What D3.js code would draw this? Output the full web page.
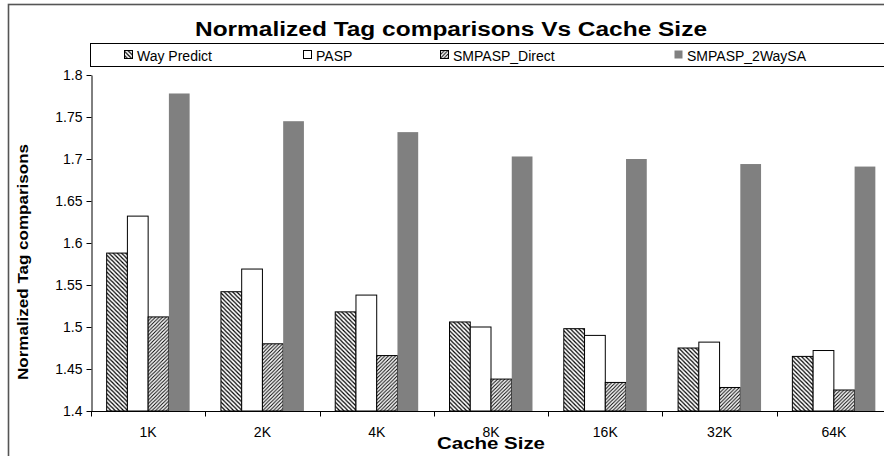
<!DOCTYPE html>
<html>
<head>
<meta charset="utf-8">
<script src="https://cdn.jsdelivr.net/npm/d3@7"></script>
<style>
  html, body { margin: 0; padding: 0; background: #fff; }
  svg { display: block; font-family: "Liberation Sans", Arial, sans-serif; }
</style>
</head>
<body>
<svg id="chart" width="884" height="456"></svg>
<script>
// Cache sizes along the x axis
const categories = ["1K", "2K", "4K", "8K", "16K", "32K", "64K"];

// Series, in legend order
const seriesNames = ["Way Predict", "PASP", "SMPASP_Direct", "SMPASP_2WaySA"];
const wayPredict   = [1.588, 1.542, 1.518, 1.506, 1.498, 1.475, 1.465];
const pasp         = [1.632, 1.569, 1.538, 1.500, 1.490, 1.482, 1.472];
const smpaspDirect = [1.512, 1.480, 1.466, 1.438, 1.434, 1.428, 1.425];
const smpasp2Way   = [1.778, 1.745, 1.732, 1.703, 1.700, 1.694, 1.691];

// Y axis ticks
const yTicks = [1.4, 1.45, 1.5, 1.55, 1.6, 1.65, 1.7, 1.75, 1.8];
const yTickLabels = ["1.4", "1.45", "1.5", "1.55", "1.6", "1.65", "1.7", "1.75", "1.8"];

const seriesValues = [wayPredict, pasp, smpaspDirect, smpasp2Way];
const rows = categories.map((c, i) => ({
  cat: c,
  values: seriesNames.map((s, k) => ({ series: s, value: seriesValues[k][i] }))
}));

const svg = d3.select("#chart");

// Hatch patterns
const defs = svg.append("defs");
function hatch(id, dir, sw, gap) {
  const p = defs.append("pattern")
    .attr("id", id)
    .attr("patternUnits", "userSpaceOnUse")
    .attr("width", gap).attr("height", gap);
  p.append("rect").attr("width", gap).attr("height", gap).attr("fill", "#fff");
  const d = dir === "back"
    ? `M0,0 L${gap},${gap} M${-gap},0 L${gap},${2 * gap} M0,${-gap} L${2 * gap},${gap}`
    : `M0,${gap} L${gap},0 M${-gap},${gap} L${gap},${-gap} M0,${2 * gap} L${2 * gap},0`;
  p.append("path").attr("d", d).attr("stroke", "#000").attr("stroke-width", sw);
}
hatch("hatchBack", "back", 1.2, 4.2);
hatch("hatchFwd", "fwd", 1.0, 3.6);

const fills = {
  "Way Predict": "url(#hatchBack)",
  "PASP": "#fff",
  "SMPASP_Direct": "url(#hatchFwd)",
  "SMPASP_2WaySA": "#808080"
};
const strokes = {
  "Way Predict": "#000",
  "PASP": "#000",
  "SMPASP_Direct": "#000",
  "SMPASP_2WaySA": "none"
};

// Outer chart frame
svg.append("rect")
  .attr("x", 8.5).attr("y", 4.5)
  .attr("width", 900).attr("height", 470)
  .attr("fill", "none").attr("stroke", "#555").attr("stroke-width", 1.6);

// Scales
const x0 = d3.scaleBand().domain(categories).range([91, 891]).padding(0);
const x1 = d3.scaleBand().domain(seriesNames)
  .range([x0.bandwidth() * 0.137, x0.bandwidth() * 0.863]).padding(0);
const y = d3.scaleLinear().domain([1.4, 1.8]).range([411, 75]);

// Bars
const groups = svg.append("g").selectAll("g")
  .data(rows).join("g")
  .attr("transform", d => `translate(${x0(d.cat)},0)`);

groups.selectAll("rect")
  .data(d => d.values).join("rect")
  .attr("x", d => x1(d.series))
  .attr("y", d => y(d.value))
  .attr("width", x1.bandwidth())
  .attr("height", d => y(1.4) - y(d.value))
  .attr("fill", d => fills[d.series])
  .attr("stroke", d => strokes[d.series])
  .attr("stroke-width", 1);

// Y axis
const yAxis = d3.axisLeft(y)
  .tickValues(yTicks)
  .tickFormat((d, i) => yTickLabels[i])
  .tickSizeInner(5).tickSizeOuter(0).tickPadding(4);
const gy = svg.append("g").attr("transform", "translate(91.5,0)").call(yAxis);
gy.select(".domain").attr("stroke", "#000");
gy.selectAll(".tick line").attr("stroke", "#000");
gy.selectAll(".tick text")
  .attr("fill", "#000").attr("font-size", 14)
  .attr("font-family", "'Liberation Sans', Arial, sans-serif");

// X axis: ticks at category boundaries
const gx = svg.append("g").attr("transform", "translate(0,411.5)");
gx.append("line")
  .attr("x1", 91).attr("x2", 891)
  .attr("stroke", "#000");
gx.selectAll("line.tk")
  .data(categories).join("line")
  .attr("class", "tk")
  .attr("x1", d => Math.round(x0(d)) + 0.5)
  .attr("x2", d => Math.round(x0(d)) + 0.5)
  .attr("y1", 0).attr("y2", 5)
  .attr("stroke", "#000");
gx.selectAll("text")
  .data(categories).join("text")
  .attr("x", d => x0(d) + x0.bandwidth() / 2)
  .attr("y", 25)
  .attr("text-anchor", "middle")
  .attr("font-size", 14)
  .attr("fill", "#000")
  .text(d => d);

// Axis titles
svg.append("text")
  .attr("x", 491).attr("y", 449)
  .attr("text-anchor", "middle")
  .attr("font-size", 16.5).attr("font-weight", "bold")
  .attr("textLength", 108).attr("lengthAdjust", "spacingAndGlyphs")
  .text("Cache Size");

svg.append("text")
  .attr("transform", "translate(28,262) rotate(-90)")
  .attr("text-anchor", "middle")
  .attr("font-size", 14).attr("font-weight", "bold")
  .attr("textLength", 236).attr("lengthAdjust", "spacingAndGlyphs")
  .text("Normalized Tag comparisons");

// Chart title
svg.append("text")
  .attr("x", 451).attr("y", 36)
  .attr("text-anchor", "middle")
  .attr("font-size", 20).attr("font-weight", "bold")
  .attr("textLength", 512).attr("lengthAdjust", "spacingAndGlyphs")
  .text("Normalized Tag comparisons Vs Cache Size");

// Legend
svg.append("rect")
  .attr("x", 90.5).attr("y", 43.5)
  .attr("width", 820).attr("height", 23)
  .attr("fill", "#fff").attr("stroke", "#000").attr("stroke-width", 1);

const legendX = [124, 303, 440, 674];
const lg = svg.append("g").selectAll("g")
  .data(seriesNames).join("g")
  .attr("transform", (d, i) => `translate(${legendX[i]},55)`);
lg.append("rect")
  .attr("x", 0.5).attr("y", -4.5)
  .attr("width", 8).attr("height", 8)
  .attr("fill", d => fills[d])
  .attr("stroke", d => d === "SMPASP_2WaySA" ? "none" : "#000");
lg.append("text")
  .attr("x", 13).attr("y", 5.5)
  .attr("font-size", 14)
  .text(d => d);
</script>
</body>
</html>
